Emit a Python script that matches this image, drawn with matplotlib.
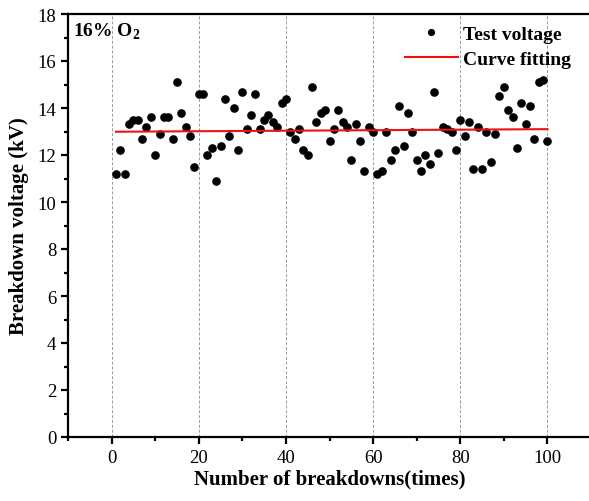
import numpy as np
import matplotlib
matplotlib.use('Agg')
import matplotlib.pyplot as plt
from matplotlib.ticker import MultipleLocator

# breakdown number and measured voltage (kV)
breakdowns = list(range(1, 101))
voltage = [11.2, 12.2, 11.2, 13.3, 13.5, 13.5, 12.7, 13.2, 13.6, 12.0,
           12.9, 13.6, 13.6, 12.7, 15.1, 13.8, 13.2, 12.8, 11.5, 14.6,
           14.6, 12.0, 12.3, 10.9, 12.4, 14.4, 12.8, 14.0, 12.2, 14.7,
           13.1, 13.7, 14.6, 13.1, 13.5, 13.7, 13.4, 13.2, 14.2, 14.4,
           13.0, 12.7, 13.1, 12.2, 12.0, 14.9, 13.4, 13.8, 13.9, 12.6,
           13.1, 13.9, 13.4, 13.2, 11.8, 13.3, 12.6, 11.3, 13.2, 13.0,
           11.2, 11.3, 13.0, 11.8, 12.2, 14.1, 12.4, 13.8, 13.0, 11.8,
           11.3, 12.0, 11.6, 14.7, 12.1, 13.2, 13.1, 13.0, 12.2, 13.5,
           12.8, 13.4, 11.4, 13.2, 11.4, 13.0, 11.7, 12.9, 14.5, 14.9,
           13.9, 13.6, 12.3, 14.2, 13.3, 14.1, 12.7, 15.1, 15.2, 12.6]

# linear fit end points
fit_x = [1, 100]
fit_y = [12.99, 13.1]

plt.rcParams['font.family'] = ['Liberation Serif', 'DejaVu Serif']
plt.rcParams['mathtext.fontset'] = 'custom'
plt.rcParams['mathtext.rm'] = 'Liberation Serif'
plt.rcParams['mathtext.bf'] = 'Liberation Serif:bold'

fig = plt.figure(figsize=(5.89, 5.02), dpi=100)
ax = fig.add_axes([68/589, 64/502, (591-68)/589, (439-16)/502])

ax.plot(breakdowns, voltage, 'o', color='black', markersize=5.2, label='Test voltage')
ax.plot(fit_x, fit_y, '-', color='#f01010', lw=1.5, label='Curve fitting')

ax.set_xlim(-10, 110)
ax.set_ylim(0, 18)
ax.xaxis.set_major_locator(MultipleLocator(20))
ax.xaxis.set_minor_locator(MultipleLocator(10))
ax.yaxis.set_major_locator(MultipleLocator(2))
ax.yaxis.set_minor_locator(MultipleLocator(1))
ax.grid(axis='x', which='major', ls=(0, (3, 2)), color='#999999', lw=0.7)

for s in ['left', 'bottom', 'top']:
    ax.spines[s].set_linewidth(1.6)
ax.spines['right'].set_visible(False)
ax.tick_params(which='major', direction='out', length=5, width=1.6, labelsize=13.5)
ax.tick_params(which='minor', direction='out', length=3, width=1.6)

ax.set_xlabel('Number of breakdowns(times)', fontsize=15, fontweight='bold', labelpad=2)
ax.set_ylabel('Breakdown voltage (kV)', fontsize=15, fontweight='bold', labelpad=6)
ax.text(0.01, 0.985, '16% O$_\\mathbf{2}$', transform=ax.transAxes, fontsize=14,
        fontweight='bold', va='top', ha='left')

leg = ax.legend(loc='upper right', bbox_to_anchor=(0.985, 1.0), frameon=False,
                prop={'weight': 'bold', 'size': 14}, handlelength=2.7, markerscale=0.8,
                handletextpad=0.3, labelspacing=0.35, borderaxespad=0.2)

fig.savefig('out.png', dpi=100)
